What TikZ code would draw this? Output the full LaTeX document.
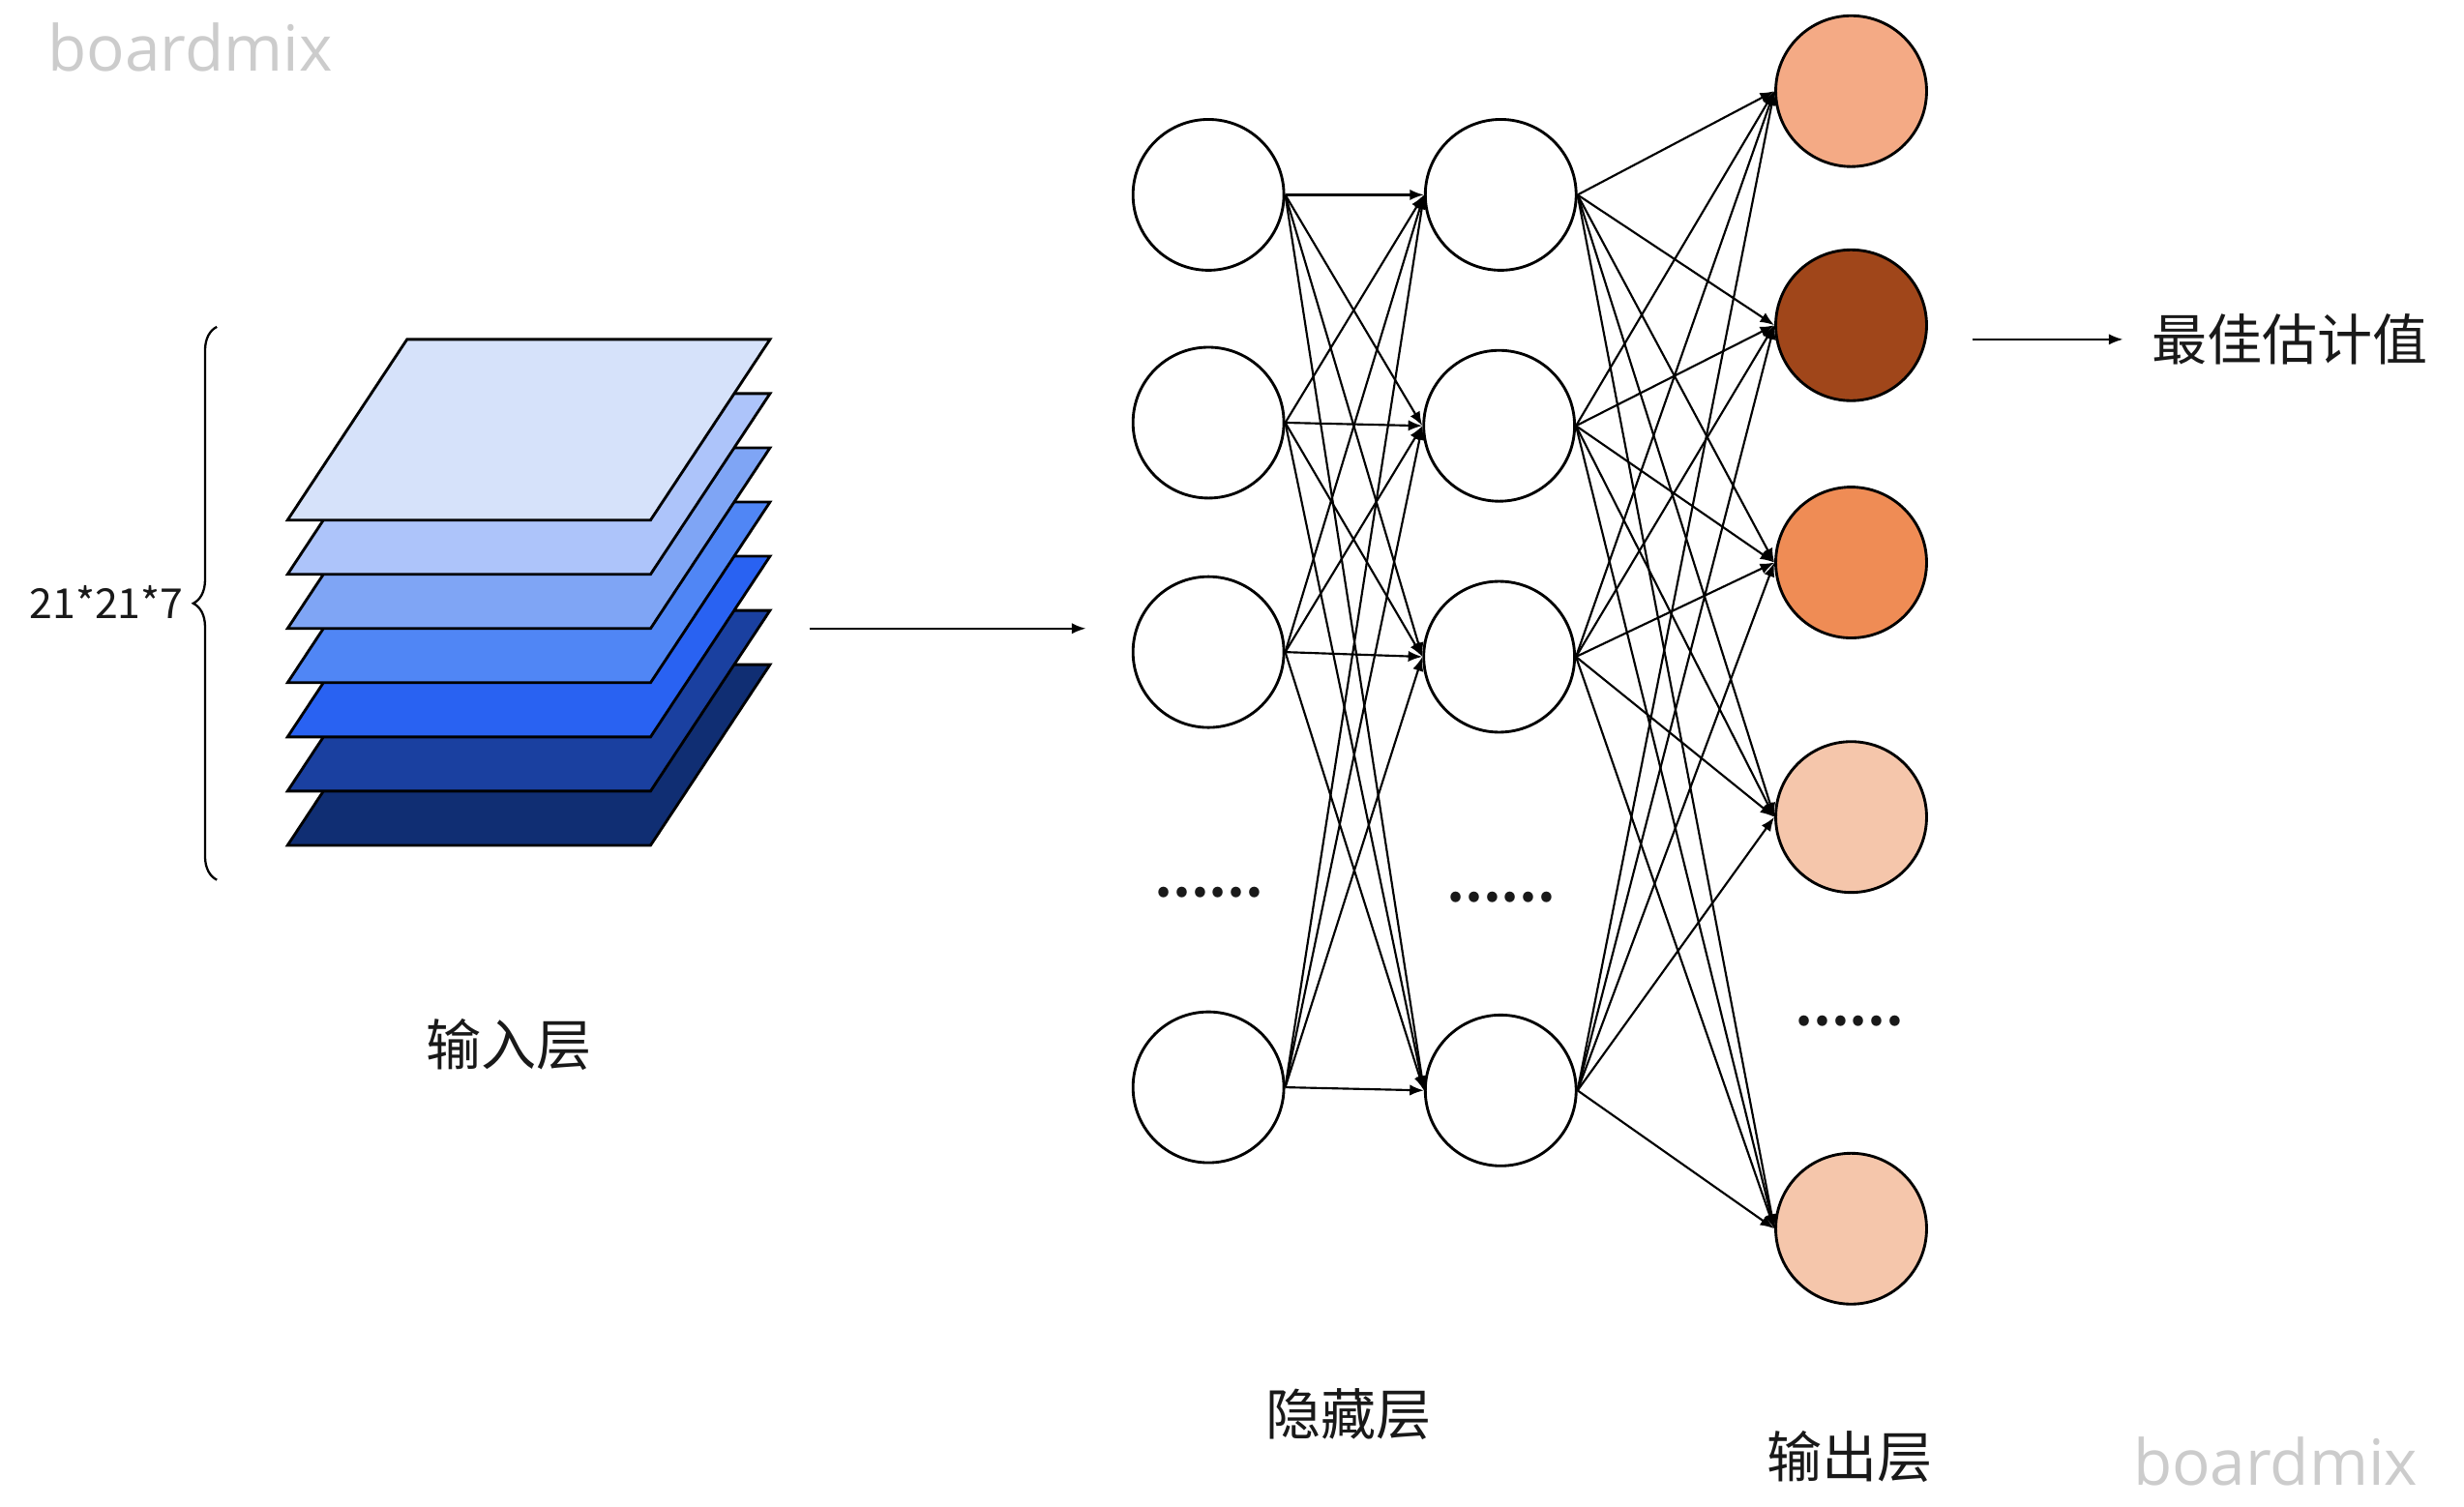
\documentclass[tikz,border=0pt]{standalone}
\usepackage{fontspec}
\setmainfont{Noto Sans CJK SC}
\newfontfamily\markfont{Open Sans}
\usetikzlibrary{positioning,arrows.meta,decorations.pathreplacing}
\definecolor{sheetA}{RGB}{214,226,250}
\definecolor{sheetB}{RGB}{173,196,250}
\definecolor{sheetC}{RGB}{127,165,245}
\definecolor{sheetD}{RGB}{80,134,245}
\definecolor{sheetE}{RGB}{41,98,242}
\definecolor{sheetF}{RGB}{26,64,160}
\definecolor{sheetG}{RGB}{16,46,115}
\definecolor{outA}{RGB}{244,170,133}
\definecolor{outB}{RGB}{160,70,26}
\definecolor{outC}{RGB}{239,140,85}
\definecolor{outD}{RGB}{245,198,171}
\tikzset{
  neuron/.style={circle, draw=black, line width=1pt, fill=white, minimum size=19.2mm,
                 inner sep=0pt},
  outneuron/.style={neuron, fill=#1},
  wire/.style={-{Latex[length=1.8mm,width=1.4mm]}, line width=0.75pt},
  sheet/.style={draw=black, line width=1pt, fill=#1},
  lbl/.style={font=\fontsize{20}{24}\selectfont, text=black!90},
  dims/.style={font=\fontsize{15}{18}\selectfont, text=black!90, anchor=east, inner sep=0pt},
  more/.style={font=\fontsize{17.5}{21}\selectfont\bfseries, text=black!90},
  wmark/.style={font=\markfont\fontsize{23}{27}\selectfont, text=black!20},
  curly/.style={decorate, decoration={brace, amplitude=3mm}, line width=0.8pt}
}
\begin{document}
\begin{tikzpicture}[x=0.2mm, y=-0.2mm]
\useasboundingbox (0,0) rectangle (1568,959);
% watermarks
\node[wmark] (wm1) at (121,30) {boardmix};
\node[wmark] (wm2) at (1448,930) {boardmix};
% input layer: stacked sheets
\foreach \k/\c in {6/sheetG,5/sheetF,4/sheetE,3/sheetD,2/sheetC,1/sheetB,0/sheetA}
  \draw[sheet=\c] (183,{331+34.5*\k}) -- ++(231,0) -- ++(76,-115) -- ++(-231,0) -- cycle;
\coordinate (braceB) at (138,560);
\coordinate (braceT) at (138,208);
\draw[curly] (braceB) -- (braceT);
\node[dims] (dimlbl) at (117,383) {21*21*7};
\node[lbl] (inlbl) at (324,665) {输入层};
\coordinate (stackout) at (515,400);
\coordinate (netin) at (691,400);
\draw[wire] (stackout) -- (netin);
% hidden layers
\node[neuron] (a1) at (769,124) {};
\node[neuron] (a2) at (769,269) {};
\node[neuron] (a3) at (769,415) {};
\node[neuron] (a4) at (769,692) {};
\node[neuron] (h1) at (955,124) {};
\node[neuron] (h2) at (954,271) {};
\node[neuron] (h3) at (954,418) {};
\node[neuron] (h4) at (955,694) {};
\node[more] (adots) at (769,568) {……};
\node[more] (hdots) at (955,571) {……};
\node[lbl] (hidlbl) at (858,900) {隐藏层};
% output layer
\node[outneuron=outA] (o1) at (1178,58) {};
\node[outneuron=outB] (o2) at (1178,207) {};
\node[outneuron=outC] (o3) at (1178,358) {};
\node[outneuron=outD] (o4) at (1178,520) {};
\node[outneuron=outD] (o5) at (1178,782) {};
\node[more] (odots) at (1177,650) {……};
\node[lbl] (outlbl) at (1177,927) {输出层};
% connections
\foreach \i in {1,...,4}
  \foreach \j in {1,...,4}
    \draw[wire] (a\i.east) -- (h\j.west);
\foreach \i in {1,...,4}
  \foreach \j in {1,...,5}
    \draw[wire] (h\i.east) -- (o\j.west);
% result
\node[lbl, anchor=west, inner xsep=3.6mm] (best) at (1351,216) {最佳估计值};
\coordinate (bestin) at (1255,216);
\draw[wire] (bestin) -- (best.west);
\end{tikzpicture}
\end{document}
